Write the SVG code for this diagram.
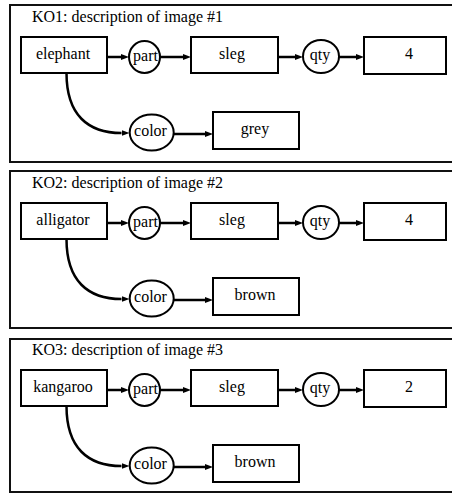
<svg xmlns="http://www.w3.org/2000/svg" width="452" height="493" viewBox="0 0 452 493">
<defs>
<style>
.frame{fill:none;stroke:#111;stroke-width:2}
.box{fill:#fff;stroke:#000;stroke-width:2}
.ell{fill:#fff;stroke:#000;stroke-width:2}
.t{font-family:'Liberation Serif',serif;font-size:16px;fill:#000;text-anchor:middle}
.title{font-family:'Liberation Serif',serif;font-size:16px;fill:#000}
.c{fill:none;stroke:#000;stroke-width:2.5}
</style>
<marker id="ah" markerUnits="userSpaceOnUse" markerWidth="9" markerHeight="8" refX="0" refY="4" orient="auto">
<path d="M0,1 L8,4 L0,7 z" fill="#000"/>
</marker>
</defs>
<rect width="452" height="493" fill="#fff"/>

<!-- Panel 1 -->
<g id="ko1">
<rect class="frame" x="10" y="5" width="460" height="157"/>
<text class="title" x="32" y="22">KO1: description of image #1</text>
<g id="ko1-elephant"><rect class="box" x="21" y="37" width="86" height="36"/><text class="t" x="63" y="59">elephant</text></g>
<g id="ko1-part"><ellipse class="ell" cx="144.5" cy="57" rx="15.5" ry="16"/><text class="t" x="145.5" y="61">part</text></g>
<g id="ko1-sleg"><rect class="box" x="191" y="37" width="87" height="36"/><text class="t" x="232" y="59">sleg</text></g>
<g id="ko1-qty"><ellipse class="ell" cx="321" cy="56.5" rx="18" ry="16.5"/><text class="t" x="320" y="60">qty</text></g>
<g id="ko1-4"><rect class="box" x="364" y="37" width="82" height="37"/><text class="t" x="409" y="59">4</text></g>
<g id="ko1-color"><ellipse class="ell" cx="151.7" cy="132.5" rx="22" ry="18"/><text class="t" x="150.5" y="136">color</text></g>
<g id="ko1-grey"><rect class="box" x="213" y="112" width="86" height="37"/><text class="t" x="255" y="134">grey</text></g>
<g id="ko1-edges">
<path class="c" d="M107,57 H121" marker-end="url(#ah)"/>
<path class="c" d="M160,57 H183" marker-end="url(#ah)"/>
<path class="c" d="M278,57 H295" marker-end="url(#ah)"/>
<path class="c" d="M339,57 H356" marker-end="url(#ah)"/>
<path class="c" d="M66.5,73 C66.5,115 88,133 121.5,133" marker-end="url(#ah)"/>
<path class="c" d="M174,134 H205" marker-end="url(#ah)"/>
</g>
</g>

<!-- Panel 2 -->
<g id="ko2" transform="translate(0,166)">
<rect class="frame" x="10" y="5" width="460" height="157"/>
<text class="title" x="32" y="22">KO2: description of image #2</text>
<g id="ko2-alligator"><rect class="box" x="21" y="37" width="86" height="36"/><text class="t" x="63" y="59">alligator</text></g>
<g id="ko2-part"><ellipse class="ell" cx="144.5" cy="57" rx="15.5" ry="16"/><text class="t" x="145.5" y="61">part</text></g>
<g id="ko2-sleg"><rect class="box" x="191" y="37" width="87" height="36"/><text class="t" x="232" y="59">sleg</text></g>
<g id="ko2-qty"><ellipse class="ell" cx="321" cy="56.5" rx="18" ry="16.5"/><text class="t" x="320" y="60">qty</text></g>
<g id="ko2-4"><rect class="box" x="364" y="37" width="82" height="37"/><text class="t" x="409" y="59">4</text></g>
<g id="ko2-color"><ellipse class="ell" cx="151.7" cy="132.5" rx="22" ry="18"/><text class="t" x="150.5" y="136">color</text></g>
<g id="ko2-brown"><rect class="box" x="213" y="112" width="86" height="37"/><text class="t" x="255" y="134">brown</text></g>
<g id="ko2-edges">
<path class="c" d="M107,57 H121" marker-end="url(#ah)"/>
<path class="c" d="M160,57 H183" marker-end="url(#ah)"/>
<path class="c" d="M278,57 H295" marker-end="url(#ah)"/>
<path class="c" d="M339,57 H356" marker-end="url(#ah)"/>
<path class="c" d="M66.5,73 C66.5,115 88,133 121.5,133" marker-end="url(#ah)"/>
<path class="c" d="M174,134 H205" marker-end="url(#ah)"/>
</g>
</g>

<!-- Panel 3 -->
<g id="ko3" transform="translate(0,333)">
<rect class="frame" x="10" y="6" width="460" height="153"/>
<text class="title" x="32" y="22">KO3: description of image #3</text>
<g id="ko3-kangaroo"><rect class="box" x="21" y="37" width="86" height="36"/><text class="t" x="63" y="59">kangaroo</text></g>
<g id="ko3-part"><ellipse class="ell" cx="144.5" cy="57" rx="15.5" ry="16"/><text class="t" x="145.5" y="61">part</text></g>
<g id="ko3-sleg"><rect class="box" x="191" y="37" width="87" height="36"/><text class="t" x="232" y="59">sleg</text></g>
<g id="ko3-qty"><ellipse class="ell" cx="321" cy="56.5" rx="18" ry="16.5"/><text class="t" x="320" y="60">qty</text></g>
<g id="ko3-2"><rect class="box" x="364" y="37" width="82" height="37"/><text class="t" x="409" y="59">2</text></g>
<g id="ko3-color"><ellipse class="ell" cx="151.7" cy="132.5" rx="22" ry="18"/><text class="t" x="150.5" y="136">color</text></g>
<g id="ko3-brown"><rect class="box" x="213" y="112" width="86" height="37"/><text class="t" x="255" y="134">brown</text></g>
<g id="ko3-edges">
<path class="c" d="M107,57 H121" marker-end="url(#ah)"/>
<path class="c" d="M160,57 H183" marker-end="url(#ah)"/>
<path class="c" d="M278,57 H295" marker-end="url(#ah)"/>
<path class="c" d="M339,57 H356" marker-end="url(#ah)"/>
<path class="c" d="M66.5,73 C66.5,115 88,133 121.5,133" marker-end="url(#ah)"/>
<path class="c" d="M174,134 H205" marker-end="url(#ah)"/>
</g>
</g>
</svg>
